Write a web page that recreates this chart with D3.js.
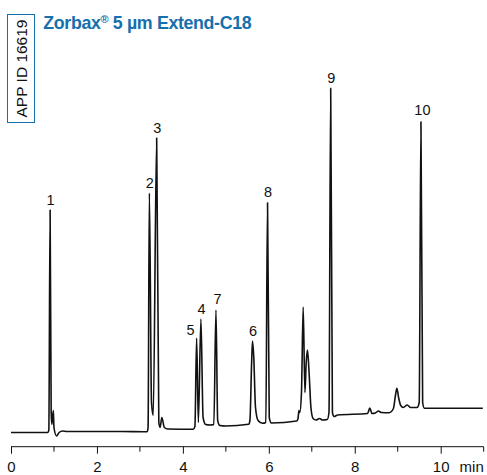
<!DOCTYPE html>
<html>
<head>
<meta charset="utf-8">
<script src="https://cdn.jsdelivr.net/npm/d3@7"></script>
<style>
  body { margin: 0; background: #fff; }
  svg { display: block; font-family: "Liberation Sans", Arial, sans-serif; }
</style>
</head>
<body>
<div id="chart"></div>
<script>
// chromatogram trace (time in min, detector signal)
const traceTime = [
  0.00, 0.85, 0.88, 0.91, 0.935, 0.95, 0.985, 1.00, 1.06, 1.12, 1.20, 1.30, 2.50, 3.17,
  3.19, 3.22, 3.27, 3.31, 3.39, 3.44, 3.47, 3.51, 3.57, 3.65, 4.24,
  4.28, 4.32, 4.36, 4.42, 4.47, 4.53, 4.63, 4.72, 4.77, 4.81, 4.86, 5.00, 5.53,
  5.56, 5.60, 5.62, 5.65, 5.69, 5.75, 5.85, 5.93,
  5.97, 6.01, 6.06, 6.65,
  6.68, 6.70, 6.72, 6.76, 6.80, 6.84, 6.87, 6.90, 6.94, 6.98, 7.03, 7.10, 7.18, 7.25, 7.36,
  7.40, 7.44, 7.48, 7.52, 7.60, 8.30, 8.35, 8.40, 8.48, 8.55, 8.62, 8.80,
  8.90, 8.95, 8.98, 9.02, 9.07, 9.13, 9.22, 9.30, 9.45,
  9.50, 9.54, 9.58, 9.62, 10.98
];
const traceSignal = [
  0, 0, 2, 222.5, 20, 8, 22, 5, -3.5, 0, 1.5, 1, 1, 0.8,
  5, 239.5, 30, 17, 294.5, 10, 5, 15, 5, 3.5, 3.2,
  6, 94.5, 10, 113.5, 15, 8, 7.5, 8, 122.5, 12, 7, 6.5, 8.2,
  12, 70, 91.5, 75, 25, 12, 9.2, 10,
  229.8, 15, 9.5, 11.5,
  14, 22, 20, 40, 125.5, 40, 70, 82.5, 57.5, 25, 14, 12.5, 14, 12.5, 13,
  20, 344.2, 20, 16, 17.5, 19, 24.5, 19, 19.5, 21.5, 20, 19.8,
  24, 38, 44.2, 35, 27, 25, 27.5, 25, 25,
  30, 310.8, 30, 24.2, 24.2
];

// numbered peaks
const peakNames = ["1", "2", "3", "5", "4", "7", "6", "8", "9", "10"];
const peakTime = [0.91, 3.22, 3.39, 4.32, 4.42, 4.77, 5.62, 5.97, 7.44, 9.54];
const peakSignal = [222.5, 239.5, 294.5, 94.5, 113.5, 122.5, 91.5, 229.8, 344.2, 310.8];

const majorTicks = [0, 2, 4, 6, 8, 10];
const minorTicks = [1, 3, 5, 7, 9, 11];

const title = "Zorbax";
const titleRest = " 5 µm Extend-C18";
const appId = "APP ID 16619";

const width = 487, height = 475;
const blue = "#1670ad";

const svg = d3.select("#chart").append("svg")
    .attr("width", width)
    .attr("height", height);

// scales
const x = d3.scaleLinear().domain([0, 10]).range([11, 440.7]);
const y = d3.scaleLinear().domain([0, 350]).range([432.5, 82.5]);

const trace = traceTime.map((t, i) => ({ t, s: traceSignal[i] }));

const line = d3.line()
    .x(d => x(d.t))
    .y(d => y(d.s))
    .curve(d3.curveMonotoneX);

svg.append("path")
    .datum(trace)
    .attr("fill", "none")
    .attr("stroke", "#111")
    .attr("stroke-width", 1.6)
    .attr("stroke-linejoin", "round")
    .attr("d", line);

// peak labels
const labelShift = { "5": [-6, 2], "7": [1.5, -1], "10": [1.5, -1] };
svg.append("g")
    .selectAll("text")
    .data(peakNames)
    .join("text")
    .attr("x", (d, i) => x(peakTime[i]) + (labelShift[d] ? labelShift[d][0] : 0.5))
    .attr("y", (d, i) => y(peakSignal[i]) - 5.5 + (labelShift[d] ? labelShift[d][1] : 0))
    .attr("text-anchor", "middle")
    .attr("font-size", 14.5)
    .attr("fill", "#111")
    .text(d => d);

// x axis
const axisY = 446.7;
const xAxis = svg.append("g")
    .attr("transform", `translate(0,${axisY})`)
    .call(d3.axisBottom(x).tickValues(majorTicks).tickSize(7).tickSizeOuter(0));
xAxis.select(".domain").attr("d", `M${x(0)},0H${x(11)}`).attr("stroke", "#111");
xAxis.selectAll(".tick line").attr("stroke", "#111");
xAxis.selectAll(".tick text")
    .attr("y", 25)
    .attr("dy", null)
    .attr("font-size", 15)
    .attr("font-family", "Liberation Sans, Arial, sans-serif")
    .attr("fill", "#111");

svg.append("g")
    .attr("transform", `translate(0,${axisY})`)
    .selectAll("line")
    .data(minorTicks)
    .join("line")
    .attr("x1", d => x(d)).attr("x2", d => x(d))
    .attr("y1", 0).attr("y2", 5)
    .attr("stroke", "#111");

svg.append("text")
    .attr("x", 471.7)
    .attr("y", axisY + 25)
    .attr("text-anchor", "middle")
    .attr("font-size", 15)
    .attr("fill", "#111")
    .text("min");

// title
const t = svg.append("text")
    .attr("x", 43.3)
    .attr("y", 28.5)
    .attr("font-size", 17.8)
    .attr("letter-spacing", -0.35)
    .attr("font-weight", "bold")
    .attr("fill", blue);
t.append("tspan").text(title);
t.append("tspan").attr("font-size", 11).attr("dy", -6).text("®");
t.append("tspan").attr("dy", 6).text(titleRest);

// app id box
svg.append("rect")
    .attr("x", 7.5).attr("y", 14.5)
    .attr("width", 27).attr("height", 108)
    .attr("fill", "none")
    .attr("stroke", blue)
    .attr("stroke-width", 1);
svg.append("text")
    .attr("transform", "translate(26.5,68.5) rotate(-90)")
    .attr("text-anchor", "middle")
    .attr("font-size", 15.5)
    .attr("fill", "#111")
    .text(appId);
</script>
</body>
</html>
